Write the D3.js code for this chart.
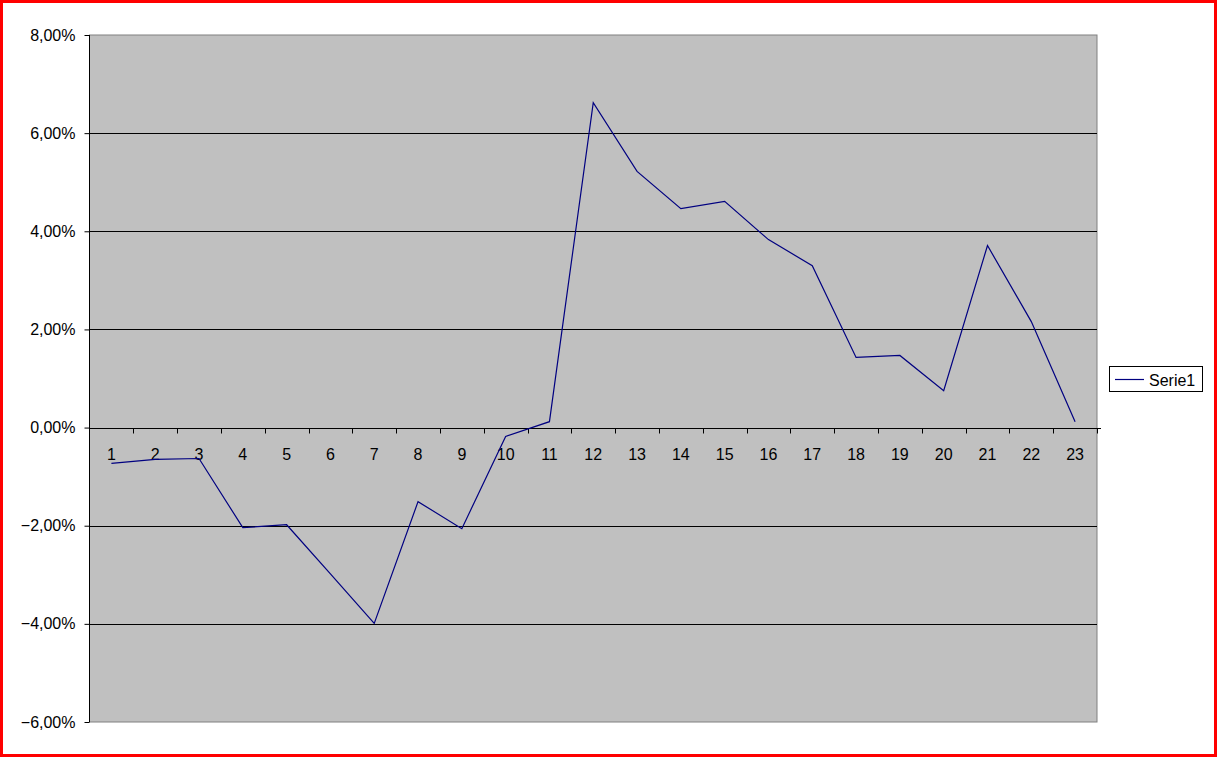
<!DOCTYPE html>
<html><head><meta charset="utf-8">
<script src="https://cdn.jsdelivr.net/npm/d3@7"></script>
<style>html,body{margin:0;padding:0;background:#fff;overflow:hidden}</style>
</head><body>
<svg id="c" width="1217" height="757"></svg>
<script>
const categories = ["1","2","3","4","5","6","7","8","9","10","11","12","13","14","15","16","17","18","19","20","21","22","23"];
const serie1 = [-0.73,-0.65,-0.63,-2.04,-1.98,-2.98,-3.99,-1.51,-2.06,-0.18,0.12,6.62,5.22,4.46,4.61,3.83,3.30,1.43,1.47,0.75,3.71,2.16,0.12];
const yTicks = [-6,-4,-2,0,2,4,6,8];
const seriesName = "Serie1";

const svg = d3.select("#c");
const W = 1217, H = 757;
const m = {l:89.5, t:35, r:1097, b:722};
const font = "'Liberation Sans', Arial, sans-serif";
const fs = 16;

svg.append("rect").attr("x",1.5).attr("y",1.5).attr("width",W-3).attr("height",H-3)
  .attr("fill","#fff").attr("stroke","#ff0000").attr("stroke-width",3);

const x = d3.scaleBand().domain(categories).range([m.l, m.r]);
const y = d3.scaleLinear().domain([-6,8]).range([m.b, m.t]);

svg.append("rect").attr("x",m.l).attr("y",m.t).attr("width",m.r-m.l).attr("height",m.b-m.t)
  .attr("fill","#c0c0c0").attr("stroke","#808080").attr("stroke-width",1);

// gridlines
svg.append("g").selectAll("line").data(yTicks.filter(d=>d!==-6 && d!==8)).join("line")
  .attr("x1",m.l).attr("x2",m.r).attr("y1",d=>Math.round(y(d))+0.5).attr("y2",d=>Math.round(y(d))+0.5)
  .attr("stroke","#000").attr("stroke-width",1);

// y axis
const yAxis = d3.axisLeft(y).tickValues(yTicks).tickSize(5).tickPadding(9)
  .tickFormat(d => d3.format(".2f")(d).replace(".",",") + "%");
const gy = svg.append("g").attr("transform",`translate(${m.l},0)`).call(yAxis);
gy.select(".domain").attr("stroke","#000").attr("d",`M0,${m.t}V${m.b}`);
gy.selectAll(".tick line").attr("stroke","#000");
gy.selectAll("text").attr("font-family",font).attr("font-size",fs).attr("fill","#000");

// x axis at zero
const y0 = Math.round(y(0))+0.5;
const gx = svg.append("g").attr("transform",`translate(0,${y0})`);
gx.append("line").attr("x1",m.l).attr("x2",m.r+4).attr("y1",0).attr("y2",0).attr("stroke","#000");
const bounds = categories.map(c => x(c)+x.bandwidth());
gx.selectAll("line.tk").data(bounds).join("line").attr("class","tk")
  .attr("x1",d=>Math.round(d)+0.5).attr("x2",d=>Math.round(d)+0.5).attr("y1",0).attr("y2",5).attr("stroke","#000");
gx.selectAll("text").data(categories).join("text")
  .attr("x",d=>x(d)+x.bandwidth()/2).attr("y",31)
  .attr("text-anchor","middle").attr("font-family",font).attr("font-size",fs).attr("fill","#000")
  .text(d=>d);

// line
const line = d3.line().x((d,i)=>x(categories[i])+x.bandwidth()/2).y(d=>y(d));
svg.append("path").datum(serie1).attr("d",line).attr("fill","none")
  .attr("stroke","#000080").attr("stroke-width",1.2);

// legend
const lg = svg.append("g");
lg.append("rect").attr("x",1109.5).attr("y",366.5).attr("width",93).attr("height",25)
  .attr("fill","#fff").attr("stroke","#000");
lg.append("line").attr("x1",1115).attr("x2",1144).attr("y1",379.5).attr("y2",379.5).attr("stroke","#000080").attr("stroke-width",1.2);
lg.append("text").attr("x",1149).attr("y",385.5).attr("font-family",font).attr("font-size",fs).attr("fill","#000").text(seriesName);
</script>
</body></html>
